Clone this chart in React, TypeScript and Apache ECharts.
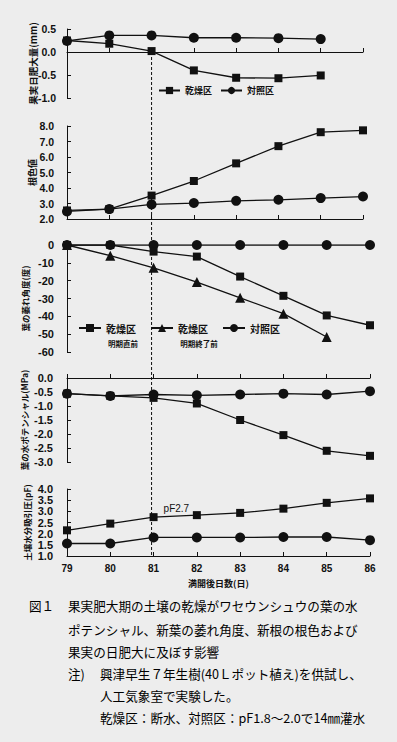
import React, { useEffect, useRef } from 'react';
import * as echarts from 'echarts';

// ---- data ----
const days = ['79', '80', '81', '82', '83', '84', '85', '86'];

const growthDry = [0.25, 0.18, 0.02, -0.4, -0.56, -0.57, -0.51];
const growthCtrl = [0.24, 0.36, 0.36, 0.31, 0.31, 0.3, 0.28];

const rootDry = [2.55, 2.64, 3.51, 4.45, 5.59, 6.7, 7.6, 7.72];
const rootCtrl = [2.49, 2.64, 2.94, 3.03, 3.17, 3.24, 3.35, 3.45];

const wiltDryBefore = [0, 0, -3.7, -6.5, -17.7, -28.5, -39.5, -45];
const wiltDryEnd = [0, -6, -12.8, -20.8, -29.6, -38.5, -51.6];
const wiltCtrl = [0, 0, 0, 0, 0, 0, 0, 0];

const wpDry = [-0.56, -0.64, -0.71, -0.91, -1.5, -2.04, -2.6, -2.78];
const wpCtrl = [-0.56, -0.64, -0.59, -0.62, -0.59, -0.56, -0.59, -0.47];

const pfDry = [2.15, 2.45, 2.74, 2.83, 2.93, 3.12, 3.38, 3.58];
const pfCtrl = [1.56, 1.56, 1.83, 1.83, 1.83, 1.85, 1.85, 1.71];

const yNames = [
  '果実日肥大量(mm)',
  '根色値',
  '葉の萎れ角度(度)',
  '葉の水ポテンシャル(MPa)',
  '土壌水分吸引圧(pF)',
];
const xName = '満開後日数(日)';
const pfNote = 'pF2.7';

const captionLines = [
  '果実肥大期の土壌の乾燥がワセウンシュウの葉の水',
  'ポテンシャル、新葉の萎れ角度、新根の根色および',
  '果実の日肥大に及ぼす影響',
];
const noteLines = [
  '興津早生７年生樹(40Ｌポット植え)を供試し、',
  '人工気象室で実験した。',
  '乾燥区：断水、対照区：pF1.8～2.0で14㎜灌水',
];

const INK = '#111';
const NUM_FONT = 'Liberation Sans, Arial, sans-serif';
const JP_FONT = '"Noto Sans CJK JP", sans-serif';

function line(name: string, data: any[], idx: number, symbol: string, size: number) {
  return {
    type: 'line',
    name,
    data,
    xAxisIndex: idx,
    yAxisIndex: idx,
    symbol,
    symbolSize: size,
    itemStyle: { color: INK, opacity: 1 },
    lineStyle: { color: INK, width: 1.3 },
    z: 3,
  };
}

export default function App() {
  const ref = useRef<HTMLDivElement>(null);
  useEffect(() => {
    document.body.style.margin = '0';
    const chart = echarts.init(ref.current!, null, { renderer: 'svg' });

    const grids = [
      { left: 67, right: 34, top: 29, height: 69 },
      { left: 67, right: 34, top: 126, height: 93 },
      { left: 67, right: 27, top: 245, height: 107 },
      { left: 67, right: 27, top: 378, height: 84 },
      { left: 67, right: 27, top: 489, height: 67 },
    ];

    const yRanges = [
      { min: -1, max: 0.5, interval: 0.5, fmt: 1, gap: 29, fs: 9.5, lm: 11, lfs: 10.5 },
      { min: 2, max: 8, interval: 1, fmt: 1, gap: 30, fs: 9, lm: 13, lfs: 10.5 },
      { min: -60, max: 0, interval: 10, fmt: 0, gap: 38, fs: 8.5, lm: 13, lfs: 11 },
      { min: -3, max: 0, interval: 0.5, fmt: 1, gap: 39, fs: 8.5, lm: 14, lfs: 11 },
      { min: 1, max: 4, interval: 0.5, fmt: 1, gap: 36, fs: 8.5, lm: 14, lfs: 11 },
    ];

    const yAxis = yRanges.map((r, i) => ({
      type: 'value',
      gridIndex: i,
      min: r.min,
      max: r.max,
      interval: r.interval,
      name: yNames[i],
      nameLocation: 'middle',
      nameRotate: 90,
      nameGap: r.gap,
      nameMoveOverlap: false,
      nameTextStyle: { fontSize: r.fs, fontWeight: 'bold', color: INK, fontFamily: JP_FONT },
      axisLine: { show: true, onZero: false, lineStyle: { color: INK, width: 1 } },
      axisTick: { show: true, inside: true, length: 4, lineStyle: { color: INK } },
      splitLine: { show: false },
      axisLabel: {
        margin: r.lm,
        fontSize: r.lfs,
        fontWeight: 'bold',
        color: INK,
        fontFamily: NUM_FONT,
        formatter: (v: number) => v.toFixed(r.fmt),
      },
    }));

    const baseX = {
      type: 'category',
      data: days,
      boundaryGap: false,
      axisLine: { show: true, lineStyle: { color: INK, width: 1 } },
      axisTick: { show: true, inside: true, length: 4, alignWithLabel: true, lineStyle: { color: INK } },
      axisLabel: { show: false },
      splitLine: { show: false },
    };

    const xAxis = [
      { ...baseX, gridIndex: 0, axisLine: { ...baseX.axisLine, onZero: true } },
      { ...baseX, gridIndex: 1 },
      { ...baseX, gridIndex: 2, axisLine: { show: false }, axisTick: { show: false } },
      {
        ...baseX,
        gridIndex: 3,
        position: 'top',
        axisLine: { show: true, onZero: false, lineStyle: { color: INK, width: 1 } },
        axisTick: { show: true, inside: false, length: 4, lineStyle: { color: INK } },
      },
      {
        ...baseX,
        gridIndex: 4,
        axisLabel: {
          show: true,
          margin: 7,
          fontSize: 10,
          fontWeight: 'bold',
          color: INK,
          fontFamily: NUM_FONT,
        },
        name: xName,
        nameLocation: 'middle',
        nameGap: 23,
        nameMoveOverlap: false,
        nameTextStyle: { fontSize: 9, fontWeight: 'bold', color: INK, fontFamily: JP_FONT },
      },
    ];

    const pfDryData = pfDry.map((v, i) =>
      i === 2
        ? {
            value: v,
            label: {
              show: true,
              formatter: pfNote,
              position: [14, -10],
              fontSize: 10,
              color: INK,
              fontFamily: NUM_FONT,
            },
          }
        : v
    );

    const series = [
      line('対照区', growthCtrl, 0, 'circle', 10),
      line('乾燥区', growthDry, 0, 'rect', 8),
      line('根色 対照区', rootCtrl, 1, 'circle', 10),
      line('根色 乾燥区', rootDry, 1, 'rect', 8),
      line('対照区', wiltCtrl, 2, 'circle', 10),
      line('乾燥区(明期直前)', wiltDryBefore, 2, 'rect', 8),
      line('乾燥区(明期終了前)', wiltDryEnd, 2, 'triangle', 10),
      line('水ポ 対照区', wpCtrl, 3, 'circle', 10),
      line('水ポ 乾燥区', wpDry, 3, 'rect', 8),
      line('pF 対照区', pfCtrl, 4, 'circle', 10),
      line('pF 乾燥区', pfDryData, 4, 'rect', 8),
    ];

    const legendText = (fs: number) => ({
      fontSize: fs,
      fontWeight: 'bold',
      color: INK,
      fontFamily: JP_FONT,
    });

    const option: any = {
      animation: false,
      backgroundColor: '#ededed',
      grid: grids,
      xAxis,
      yAxis,
      series,
      legend: [
        {
          data: ['乾燥区', '対照区'],
          left: 158,
          top: 86,
          itemWidth: 21,
          itemHeight: 9,
          itemGap: 8,
          textStyle: legendText(9),
          selectedMode: false,
          padding: 0,
        },
        {
          data: ['乾燥区(明期直前)', '乾燥区(明期終了前)', '対照区'],
          left: 78,
          top: 323,
          itemWidth: 22,
          itemHeight: 10,
          itemGap: 14,
          textStyle: legendText(10),
          selectedMode: false,
          padding: 0,
          formatter: (n: string) => n.split('(')[0],
        },
      ],
    };

    chart.setOption(option);

    const top = chart.convertToPixel({ gridIndex: 0 }, [2, 0]) as number[];
    const bot = chart.convertToPixel({ gridIndex: 4 }, [2, 1]) as number[];

    const capStyle = (text: string) => ({
      text,
      fill: '#000',
      fontSize: 12.6,
      fontFamily: JP_FONT,
      verticalAlign: 'middle',
    });
    const capY = [605, 629, 651, 673, 695, 717];

    const elements: any[] = [
      {
        type: 'line',
        shape: { x1: top[0], y1: top[1], x2: top[0], y2: bot[1] },
        style: { stroke: INK, lineWidth: 1, lineDash: [3, 2] },
        z: 2,
      },
      {
        type: 'text',
        x: 123,
        y: 343,
        style: { text: '明期直前', fill: INK, fontSize: 7.5, fontWeight: 'bold', fontFamily: JP_FONT, align: 'center', verticalAlign: 'middle' },
      },
      {
        type: 'text',
        x: 199,
        y: 343,
        style: { text: '明期終了前', fill: INK, fontSize: 7.5, fontWeight: 'bold', fontFamily: JP_FONT, align: 'center', verticalAlign: 'middle' },
      },
      { type: 'text', x: 29, y: capY[0], style: capStyle('図１') },
      ...captionLines.map((t, i) => ({ type: 'text', x: 68, y: capY[i], style: capStyle(t) })),
      { type: 'text', x: 68, y: capY[3], style: capStyle('注)') },
      ...noteLines.map((t, i) => ({ type: 'text', x: 100, y: capY[3 + i], style: capStyle(t) })),
    ];

    chart.setOption({ graphic: { elements } });

    return () => chart.dispose();
  }, []);
  return <div ref={ref} style={{ width: 397, height: 742 }} />;
}
